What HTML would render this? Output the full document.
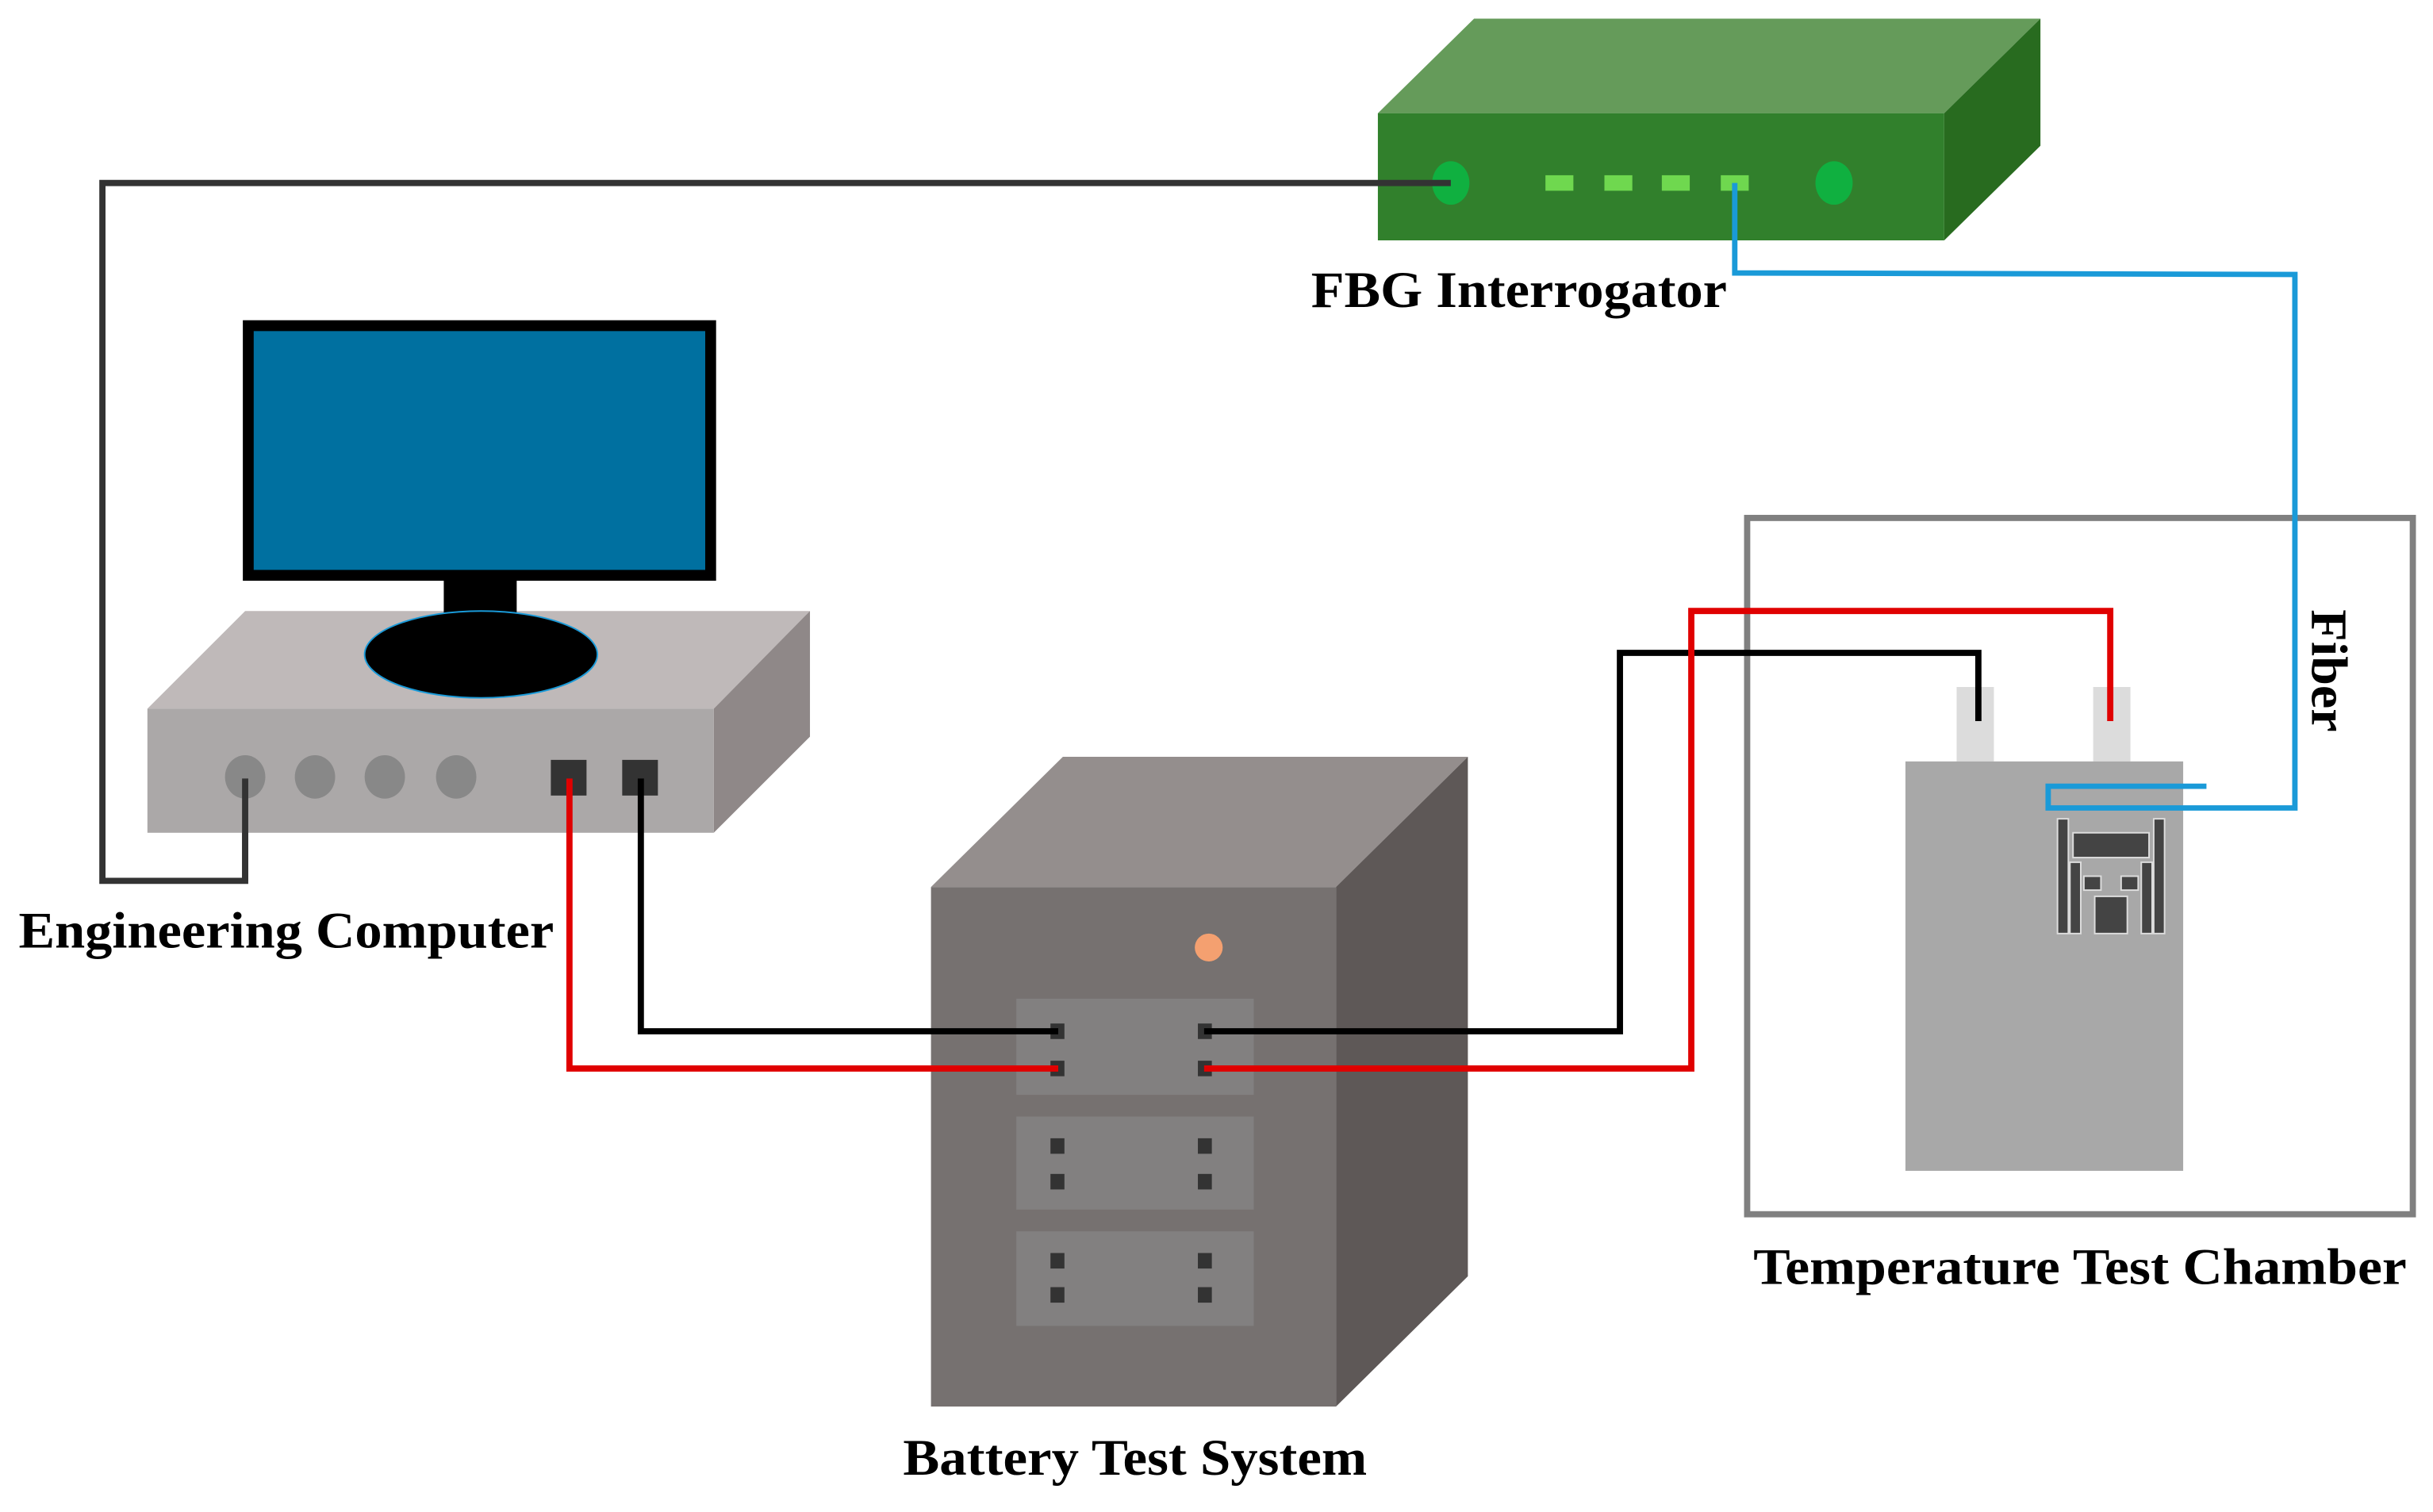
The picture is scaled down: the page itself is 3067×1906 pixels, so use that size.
<!DOCTYPE html>
<html><head><style>html,body{margin:0;padding:0;background:#fff}svg{display:block}</style></head><body>
<svg width="3067" height="1906" viewBox="0 0 1568 975" preserveAspectRatio="none" xmlns="http://www.w3.org/2000/svg">
<g font-family="Liberation Serif, serif" font-weight="bold" font-size="33" fill="#000">
<!-- FBG -->
<polygon points="888,73 950,12 1315,12 1253,73" fill="#659b5a"/>
<polygon points="1253,73 1315,12 1315,94 1253,155" fill="#286b1f"/>
<rect x="888" y="73" width="365" height="82" fill="#31802c"/>
<ellipse cx="935" cy="118" rx="12" ry="14" fill="#10b040"/>
<ellipse cx="1182" cy="118" rx="12" ry="14" fill="#10b040"/>
<rect x="996" y="113" width="18" height="10" fill="#6fd84f"/>
<rect x="1034" y="113" width="18" height="10" fill="#6fd84f"/>
<rect x="1071" y="113" width="18" height="10" fill="#6fd84f"/>
<rect x="1109" y="113" width="18" height="10" fill="#6fd84f"/>
<text x="845" y="198" textLength="268" lengthAdjust="spacingAndGlyphs">FBG Interrogator</text>
<!-- computer -->
<polyline points="935,118 66,118 66,568 158,568 158,500" fill="none" stroke="#333" stroke-width="4"/>
<polygon points="95,457 158,394 522,394 460,457" fill="#bfb9b9"/>
<polygon points="460,457 522,394 522,475 460,537" fill="#8f8888"/>
<rect x="95" y="457" width="365" height="80" fill="#aba8a8"/>
<rect x="160" y="210" width="298" height="161" fill="#0070a0" stroke="#000" stroke-width="7"/>
<rect x="286" y="374" width="47" height="28" fill="#000"/>
<ellipse cx="310" cy="422" rx="75" ry="28" fill="#000" stroke="#1a9ad8" stroke-width="1"/>
<ellipse cx="158" cy="501" rx="13" ry="14" fill="#888"/>
<ellipse cx="203" cy="501" rx="13" ry="14" fill="#888"/>
<ellipse cx="248" cy="501" rx="13" ry="14" fill="#888"/>
<ellipse cx="294" cy="501" rx="13" ry="14" fill="#888"/>
<rect x="355" y="490" width="23" height="23" fill="#333"/>
<rect x="401" y="490" width="23" height="23" fill="#333"/>
<polyline points="158,568 158,502" fill="none" stroke="#333" stroke-width="4"/>
<text x="12" y="611" textLength="345" lengthAdjust="spacingAndGlyphs">Engineering Computer</text>
<!-- battery tester -->
<polygon points="600,572 685,488 946,488 861,572" fill="#948e8d"/>
<polygon points="861,572 946,488 946,823 861,907" fill="#5e5857"/>
<rect x="600" y="572" width="261" height="335" fill="#767170"/>
<circle cx="779" cy="611" r="9" fill="#f4a070"/>
<rect x="655" y="644" width="153" height="62" fill="#828080"/>
<rect x="655" y="720" width="153" height="60" fill="#828080"/>
<rect x="655" y="794" width="153" height="61" fill="#828080"/>
<g fill="#333">
<rect x="677" y="660" width="9" height="10"/><rect x="772" y="660" width="9" height="10"/>
<rect x="677" y="684" width="9" height="10"/><rect x="772" y="684" width="9" height="10"/>
<rect x="677" y="734" width="9" height="10"/><rect x="772" y="734" width="9" height="10"/>
<rect x="677" y="757" width="9" height="10"/><rect x="772" y="757" width="9" height="10"/>
<rect x="677" y="808" width="9" height="10"/><rect x="772" y="808" width="9" height="10"/>
<rect x="677" y="830" width="9" height="10"/><rect x="772" y="830" width="9" height="10"/>
</g>
<polyline points="367,502 367,689 682,689" fill="none" stroke="#e00000" stroke-width="4"/>
<polyline points="413,502 413,665 682,665" fill="none" stroke="#000" stroke-width="4"/>
<text x="582" y="951" textLength="299" lengthAdjust="spacingAndGlyphs">Battery Test System</text>
<!-- chamber -->
<rect x="1126" y="334" width="429" height="449" fill="none" stroke="#808080" stroke-width="4"/>
<rect x="1261" y="443" width="24" height="48" fill="#dcdcdc"/>
<rect x="1349" y="443" width="24" height="48" fill="#dcdcdc"/>
<rect x="1228" y="491" width="179" height="264" fill="#a8a8a8"/>
<polyline points="776,665 1044,665 1044,421 1275,421 1275,465" fill="none" stroke="#000" stroke-width="4"/>
<polyline points="776,689 1090,689 1090,394 1360,394 1360,465" fill="none" stroke="#e00000" stroke-width="4"/>
<g stroke="#ddd" stroke-width="1">
<rect x="1326" y="528" width="7" height="74" fill="#444"/>
<rect x="1388" y="528" width="7" height="74" fill="#444"/>
<rect x="1336" y="537" width="49" height="16" fill="#444"/>
<rect x="1334" y="556" width="7" height="46" fill="#444"/>
<rect x="1380" y="556" width="7" height="46" fill="#444"/>
<rect x="1343" y="565" width="11" height="9" fill="#444"/>
<rect x="1367" y="565" width="11" height="9" fill="#444"/>
<rect x="1350" y="578" width="21" height="24" fill="#444"/>
</g>
<polyline points="1118,118 1118,176 1479,177 1479,521 1320,521 1320,507 1422,507" fill="none" stroke="#1a9ad8" stroke-width="3.5"/>
<text x="1130" y="828" textLength="421" lengthAdjust="spacingAndGlyphs">Temperature Test Chamber</text>
<text transform="translate(1490,393) rotate(90)" textLength="79" lengthAdjust="spacingAndGlyphs">Fiber</text>
</g>
</svg>
</body></html>
